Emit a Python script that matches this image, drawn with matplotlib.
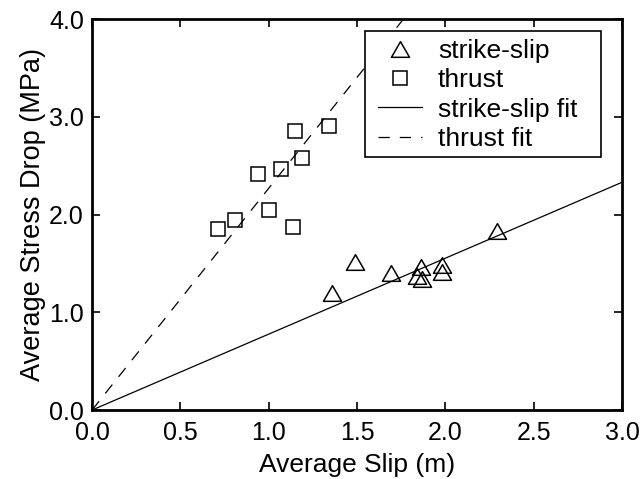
import numpy as np
import matplotlib
matplotlib.use("Agg")
import matplotlib.pyplot as plt
from matplotlib.path import Path
from matplotlib.patches import Rectangle

plt.rcParams['font.family'] = ['Liberation Sans', 'DejaVu Sans']

# Data
ss_slip = [1.36, 1.49, 1.69, 1.84, 1.86, 1.87, 1.98, 1.98, 2.29]
ss_stress = [1.20, 1.51, 1.40, 1.37, 1.46, 1.34, 1.48, 1.41, 1.83]
th_slip = [0.71, 0.81, 0.94, 1.00, 1.07, 1.14, 1.15, 1.19, 1.34]
th_stress = [1.85, 1.94, 2.42, 2.05, 2.47, 1.87, 2.86, 2.58, 2.91]
ss_slope = 0.777
th_slope = 2.27
fit_x = np.array([0.0, 3.0])
xticks = [0.0, 0.5, 1.0, 1.5, 2.0, 2.5, 3.0]
yticks = [0.0, 1.0, 2.0, 3.0, 4.0]

tri = Path([(-1, -0.866), (1, -0.866), (0, 0.866), (-1, -0.866)],
           [Path.MOVETO, Path.LINETO, Path.LINETO, Path.CLOSEPOLY])

fig = plt.figure(figsize=(6.44, 4.79), dpi=100)
ax = fig.add_axes([0.143, 0.144, 0.823, 0.816])

ax.plot(ss_slip, ss_stress, linestyle='none', marker=tri, markersize=13,
        markerfacecolor='none', markeredgecolor='black', markeredgewidth=1.1,
        label='strike-slip')
ax.plot(th_slip, th_stress, linestyle='none', marker='s', markersize=9.6,
        markerfacecolor='none', markeredgecolor='black', markeredgewidth=1.1,
        label='thrust')
ax.plot(fit_x, ss_slope * fit_x, color='black', linewidth=0.9,
        label='strike-slip fit')
l, = ax.plot(fit_x, th_slope * fit_x, color='black', linewidth=0.9,
             label='thrust fit')
l.set_dashes((9, 8))

ax.set_xlim(0, 3.0)
ax.set_ylim(0, 4.0)
ax.set_xticks(xticks)
ax.set_yticks(yticks)
ax.set_xticklabels([f"{v:.1f}" for v in xticks])
ax.set_yticklabels([f"{v:.1f}" for v in yticks])
ax.tick_params(direction='in', top=True, right=True, length=6, width=1.2,
               labelsize=18)
ax.tick_params(axis='x', pad=8)
ax.tick_params(axis='y', pad=6)
for s in ax.spines.values():
    s.set_linewidth(2)
    s.set_zorder(6)
ax.set_xlabel('Average Slip (m)', fontsize=19, labelpad=6)
ax.set_ylabel('Average Stress Drop (MPa)', fontsize=19.5, labelpad=2)

# legend box (opaque, square corners)
box = Rectangle((0.515, 0.647), 0.445, 0.322, transform=ax.transAxes,
                facecolor='white', edgecolor='black', linewidth=1.2, zorder=4)
ax.add_patch(box)

leg = ax.legend(loc='upper left', bbox_to_anchor=(0.515, 0.982),
                fontsize=19, frameon=False, borderaxespad=0,
                handlelength=1.67, labelspacing=0.2, borderpad=0.49,
                handletextpad=0.6)
leg.set_zorder(5)

fig.savefig('out.png', dpi=100)
